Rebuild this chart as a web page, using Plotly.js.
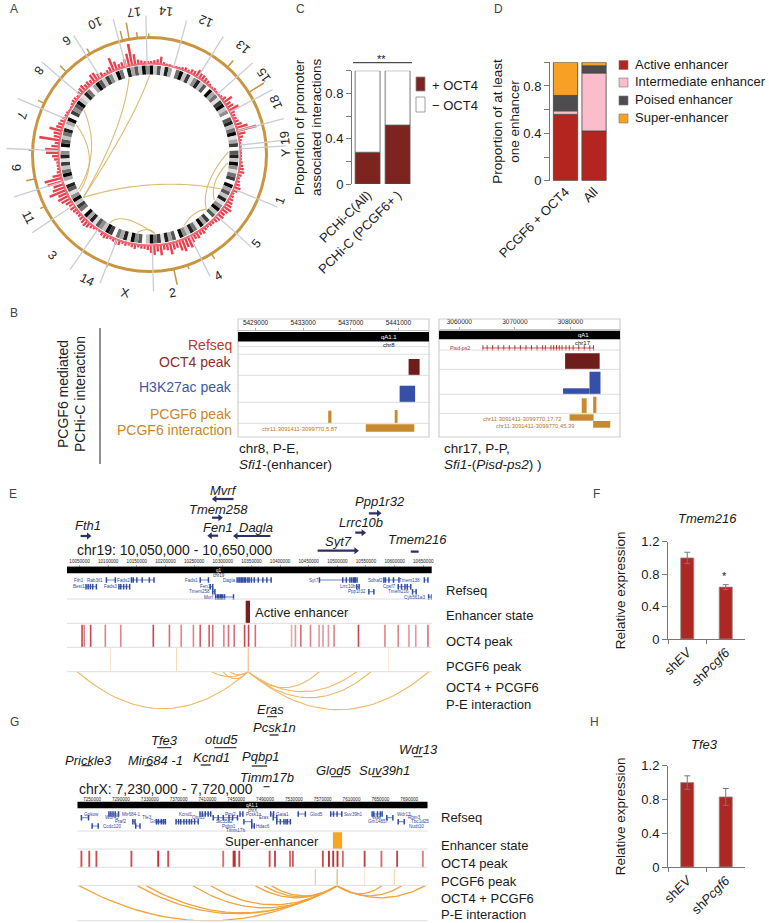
<!DOCTYPE html>
<html><head><meta charset="utf-8">
<script src="https://cdn.plot.ly/plotly-3.0.1.min.js"></script>
<style>html,body{margin:0;padding:0;background:#fff}</style></head>
<body><div id="plot" style="width:769px;height:923px"></div>
<script>
// ---------- Panel A data (angles clockwise from the top, radius in ring units)
const redHist=[3,4,5,8,3,2,2,1,2,2,3,4,3,5,5,8,6,6,5,4,3,2,3,2,2,3,5,10,6,7,11,5,4,4,5,7,12,20,8,5,3,2,2,2,2,2,2,3,4,5,6,4,3,4,5,7,5,3,4,5,6,7,9,7,6,7,6,5,4,4,3,4,6,5,7,6,8,12,10,13,11,7,8,12,7,6,11,7,10,8,5,4,4,3,5,4,3,4,3,5,6,4,3,4,5,4,2,2,3,4,6,7,6,5,4,4,5,6,5,7,10,12,10,18,13,11,16,18,9,4,3,3,3,5,7,13,14,8,5,21,7,8,13,7,6,5,4,3,3,2,2,3,4,4,3,5,6,7,5,6,5,9,9,6,5,3,4,6,14,9,5,6,8,13,22,11,5,4,3,3];
const bandShade=[9,2,6,1,8,3,0,5,9,2,7,1,4,8,2,6,0,9,3,5,1,7,9,2,4,0,6,8,2,5,9,1,3,7,0,6,8,2,9,4,1,5,7,0,9,3,6,2,8,1,4,9,2,6,0,7,3,9,1,5,8,2,4,9,0,6,3,8,1,7,5,9,2,0,6,4,9,1,8,3,5,0,7,9,2,4,6,1,8,3,9,0,5,7,2,9,4,1,6,8,0,3,9,5,2,7,1,8,4,0,9,6,2,5,8,1,3,9,0,7,4,6,9,2,1,8,5,0,3,9,6,2,7,4,1,9,5,0,8,3,6,2,9,4];
const goldSpikeTheta=[350,346.7,354,329.4,314.8,295.9,272,258,243.7,200.8,168,148,41.7,58,161,359.6];
const goldSpikeHeight=[16,9,5,5,8,6,3,8,4,3,15,5,8,17,3,3];
const spokeTheta=[345,358.5,15.5,32,48.4,62.2,75,84,86.4,112.3,132.3,153.6,178.3,201,214.6,236.3,252.6,272.4,293,310.7,327.5];
const spokeTip=[140,139,139,139,138,139,139,137,137,138,138,136,137,138,140,141,142,143,143,142,141];
const chromLabels=["10","17","14","12","13","15","18","19","Y","1","5","4","2","X","14","3","11","9","7","8","6"];
const chromLabelX=[95,134,166,206,243,264,276,285,286,280,256,218,172,125,87,52,28,16,22,39,67];
const chromLabelY=[23,12,11,21,47,75,102,138,153,201,244,276,293,293,280,255,217,167,115,70,40];
const chordFrom=[345,0,237,304,292,88,96,154,210,189];
const chordTo=[237,237,115.7,244,242,134,125,134,176.6,176];
const chordCtrlTheta=[315,334,174,273,267,120,114,142,206.6,181];
const chordCtrlR=[37,37,22,48,49,59,66,71,63,72];
// ---------- Panel C
const cCats=["PCHi-C(All)","PCHi-C (PCGF6+ )"];
const cPlus=[0.28,0.52], cMinus=[0.72,0.48];
// ---------- Panel D
const dCats=["PCGF6 + OCT4","All"];
const dActive=[0.56,0.42], dIntermediate=[0.03,0.49], dPoised=[0.13,0.06], dSuper=[0.28,0.03];
// ---------- Panels F, H
const fhCats=["sh<i>EV</i>","sh<i>Pcgf6</i>"];
const fVals=[1.0,0.64], fErr=[0.07,0.03];
const hVals=[1.0,0.83], hErr=[0.08,0.10];
// ---------- Panel B (genome coordinates)
const b1Oct4=[[5441855,5442781]], b1H3k=[[5441101,5442403]];
const b1Pcgf6=[[5435102,5435376],[5440689,5440929]], b1Inter=[[5438256,5442335]];
const b2Oct4=[[3079048,3085275]], b2H3kTall=[[3083444,3085422]], b2H3kLow=[[3078681,3083444]];
const b2Pcgf6=[[3082051,3082930],[3084102,3084688]];
const b2Inter1=[[3079853,3084176]], b2Inter2=[[3084102,3087180]];
const b2GeneExons=[3064249,3065000,3066000,3067000,3068000,3069000,3070000,3071000,3072000,3073000,3074000,3075000,3075500,3076500,3077000,3077500,3078000,3078500,3079200,3079800,3080500,3081500,3082500,3083500,3084176];
// ---------- Panel E (genome coordinates)
const eOct4=[10054375,10058125,10069375,10095000,10121875,10178750,10206875,10227500,10248750,10260625,10276250,10282500,10301875,10310000,10320000,10338125,10345000,10356875,10420000,10426875,10436250,10453125,10468125,10475000,10484375,10494375,10536875,10583125,10606250,10625000,10636875,10658125];
const eOct4Alpha=[.9,.6,.9,.6,.6,.9,.7,.6,.6,.8,.8,.7,.6,.7,.7,.9,.9,.7,.4,.5,.7,.6,.5,.5,.5,.6,.9,.6,.6,.5,.5,.7];
const ePcgf6=[10103750,10219375,10344375,10589375], ePcgf6Alpha=[.4,.5,1,.3];
const eEnhancer=[[10340000,10347500]];
const eHub=10344375;
const ePartner=[10046000,10280000,10312000,10300000,10468750,10534000,10559000,10660000];
const eDepth=[37,5,3,7,16,20,26,38];
const eRefStart=[10061250,10096875,10118750,10140625,10260625,10278125,10282500,10287500,10325000,10468750,10534000,10555000,10581250,10606250,10631250,10651875,10659375];
const eRefEnd=[10079375,10112500,10137500,10180000,10275000,10282500,10286250,10318750,10384375,10534375,10538000,10563750,10607500,10628125,10637500,10658125,10664375];
const eRefRow=[1,0,1,0,0,1,2,3,0,0,1,2,0,1,2,0,3];
const eExtraExon=[10328125,10330000,10332500,10335000,10337500,10340000,10343750,10346000,10350000,10355000,10362000,10370000,10377000,10509375,10515625,10521875,10525000,10528125,10530000,10531250,10290625,10293000,10295625,10298000,10300000,10303125,10143750,10150000,10159375,10171875,10065000,10069000,10073000,10122000,10127000,10132000,10584000,10590000,10598000,10612000,10618000,10622000];
const eExtraExonRow=[0,0,0,0,0,0,0,0,0,0,0,0,0,0,0,0,0,0,0,0,3,3,3,3,3,3,0,0,0,0,1,1,1,1,1,1,0,0,0,1,1,1];
const eRefNames=["Fth1","Rab3il1","Fads2","Fads1","Dagla","Syt7","Sdhaf2","Tmem138","Best1","Fads3","Fen1","Lrrc10b","Cpsf7","Tmem258","Ppp1r32","Tmem216","Mvrf","Cyb561a3"];
const eGeneStart=[10051875,10318750,10281250,10291875,10383125,10465625,10531250,10555000,10628125];
const eGeneEnd=[10065625,10286250,10295000,10278125,10323125,10532500,10545000,10571875,10641875];
// ---------- Panel G (genome coordinates)
const gOct4=[7235129,7246034,7255948,7304527,7341705,7355584,7431922,7446297,7448000,7454228,7496363,7503798,7524618,7528583,7570222,7578649,7584598,7590546,7597981,7628219,7651517,7673328,7709018];
const gOct4Alpha=[.85,.85,.85,.85,1,.85,.7,1,1,.9,.85,.9,.7,.8,.85,1,1,1,.7,.9,.7,.9,.6];
const gPcgf6=[7559813,7590050,7628219,7669362], gPcgf6Alpha=[.7,1,.3,.5];
const gEnhancer=[[7584100,7597000]];
const gHub=7590050;
const gPartner=[7232155,7312954,7325346,7389787,7414572,7476535,7488927,7498841,7652508,7679772,7711992];
const gDepth=[35,28,27,22,19,12,11,10,8,10,12];
const gRefStart=[7235129,7273298,7339226,7366490,7399701,7418042,7455220,7460673,7471578,7497850,7501321,7506277,7536023,7581128,7638629,7658953,7674815,7250000,7306510,7310475];
const gRefEnd=[7245043,7286682,7351619,7397223,7414572,7451750,7459185,7471578,7475048,7501816,7506277,7525114,7545937,7596494,7652508,7667379,7683242,7258427,7309484,7316424];
const gRefRow=[1,0,2,2,0,1,0,2,3,0,1,2,0,0,0,1,2,3,2,3];
const gExtraExon=[7369959,7373000,7377395,7381000,7384831,7388000,7392266,7511238,7516195,7519000,7521152,7425000,7432000,7440000,7445000,7276000,7279000,7282000,7342000,7346000,7349000,7403000,7407000,7411000,7585000,7590000,7641000,7646000,7650000];
const gExtraExonRow=[2,2,2,2,2,2,2,2,2,2,2,1,1,1,1,0,0,0,2,2,2,0,0,0,0,0,0,0,0];
const gRefNames=["Gpkow","Mir684-1","Kcnd1","Pim2","Pcsk1n","Gata1","Glod5","Suv39h1","Wdr13","Wdr45","Tfe3","Otud5","Eras","Was","Rbm3","Praf2","Gripap1","Slc35a2","Gm14857","Tbc1d25","Ccdc120","Pqbp1","Hdac6","Nudt10","Timm17b"];
const gGeneNames=["Eras","Pcsk1n","Tfe3","otud5","Prickle3","Mir684 -1","Kcnd1","Pqbp1","Wdr13","Glod5","Suv39h1","Timm17b"];
const gGeneStart=[7492893,7496363,7340217,7419529,7235129,7322868,7400693,7471578,7696130,7581624,7638629,7487936];
const gGeneEnd=[7506277,7508755,7360045,7450263,7248513,7334269,7414572,7492893,7708523,7596990,7651517,7496363];

// ---------- layout constants (page pixels)
const W=769,H=923, FONT='"Liberation Sans", Arial, sans-serif';
const domX=(a,b)=>[a/W,b/W], domY=(a,b)=>[1-b/H,1-a/H], posY=p=>1-p/H;
const RED='#b5251f',GOLD='#c98a2e',SEP='#dedede';
const traces=[], annotations=[], shapes=[];
const note=(text,x,y,o={})=>annotations.push(Object.assign({xref:'x9',yref:'y5',x,y,text,showarrow:false,xanchor:'center',yanchor:'middle',font:{family:FONT,size:13,color:'#1a1a1a'}},o));
const hline=(x0,x1,y,color=SEP,w=1)=>shapes.push({type:'line',xref:'x9',yref:'y5',x0,x1,y0:y,y1:y,line:{color,width:w},layer:'below'});
const rect=(x0,x1,y0,y1,fill,line,w=1)=>shapes.push({type:'rect',xref:'x9',yref:'y5',x0,x1,y0,y1,fillcolor:fill,line:{color:line||fill,width:line?w:0}});

// ---------- Panel A
const hist=(th,r,base,width,color)=>({type:'barpolar',theta:th,r,base,width,marker:{color,line:{width:0}},subplot:'polar'});
traces.push(hist([180],[3],[115.5],[360],'#c9953f'));
traces.push(hist(goldSpikeTheta,goldSpikeHeight,goldSpikeTheta.map(()=>118),goldSpikeTheta.map(()=>0.7),'#c9953f'));
traces.push(hist(redHist.map((v,i)=>(i+.5)*360/redHist.length),redHist,redHist.map(()=>90.5),redHist.map(()=>1.4),'#e9414f'));
traces.push(hist([180],[2],[90],[360],'#ee6a74'));
traces.push(hist(bandShade.map((v,i)=>(i+.5)*360/bandShade.length),bandShade.map(()=>9),bandShade.map(()=>80),bandShade.map(()=>360/bandShade.length),bandShade.map(v=>{const g=Math.round(250-v*27);return `rgb(${g},${g},${g})`})));
const spT=[],spR=[];spokeTheta.forEach((t,i)=>{spT.push(t,t,null);spR.push(91,spokeTip[i],null)});
traces.push({type:'scatterpolar',mode:'lines',theta:spT,r:spR,line:{color:'#c9cdd3',width:1.3},subplot:'polar'});
const cT=[],cR=[];const pol=(t,r)=>[r*Math.sin(t*Math.PI/180),r*Math.cos(t*Math.PI/180)];
chordFrom.forEach((a,i)=>{const p0=pol(a,79),p2=pol(chordTo[i],79),c=pol(chordCtrlTheta[i],chordCtrlR[i]);
  for(let k=0;k<=30;k++){const u=k/30,v=1-u,x=v*v*p0[0]+2*u*v*c[0]+u*u*p2[0],y=v*v*p0[1]+2*u*v*c[1]+u*u*p2[1];
    cT.push(Math.atan2(x,y)*180/Math.PI);cR.push(Math.hypot(x,y));}
  cT.push(null);cR.push(null);});
traces.push({type:'scatterpolar',mode:'lines',theta:cT,r:cR,line:{color:'#ddbb72',width:1.1},subplot:'polar'});
chromLabels.forEach((s,i)=>{const t=Math.atan2(chromLabelX[i]-149.5,-(chromLabelY[i]-154.5))*180/Math.PI;
  let rot=t+180;while(rot>180)rot-=360;note(s,chromLabelX[i],chromLabelY[i],{textangle:rot,font:{family:FONT,size:12.5,color:'#222'}});});

// ---------- Panel C
traces.push({type:'bar',xaxis:'x',yaxis:'y',x:cCats,y:cPlus,width:.83,marker:{color:'#7d2320',line:{color:'#555',width:.8}}});
traces.push({type:'bar',xaxis:'x',yaxis:'y',x:cCats,y:cMinus,base:cPlus,width:.83,marker:{color:'#fff',line:{color:'#555',width:.8}}});
shapes.push({type:'line',xref:'x9',yref:'y5',x0:353,x1:412,y0:62.7,y1:62.7,line:{color:'#222',width:1}});
note('**',381,58.5,{font:{family:FONT,size:11,color:'#222'}});
rect(416,425,77,91,'#7d2320','#888',.8);rect(416,425,97,112,'#fff','#888',.8);
note('+ OCT4',430,85,{xanchor:'left'});note('− OCT4',430,105.5,{xanchor:'left'});

// ---------- Panel D
const dStack=[dActive,dIntermediate,dPoised,dSuper],dCols=[RED,'#fbbccb','#4d4d4f','#f7a024'];
let dBase=[0,0];
dStack.forEach((v,k)=>{traces.push({type:'bar',xaxis:'x2',yaxis:'y2',x:dCats,y:v,base:dBase.slice(),width:.85,marker:{color:dCols[k],line:{color:'#444',width:.8}}});dBase=dBase.map((b,i)=>b+v[i]);});
['Active enhancer','Intermediate enhancer','Poised enhancer','Super-enhancer'].forEach((s,i)=>{
  const y=[65,82.5,100.5,118.5][i];rect(619,628,y-4.5,y+4.5,dCols[i],'#777',.6);note(s,632.5,y-1,{xanchor:'left'});});

// ---------- Panels F, H
const expr=(xa,ya,v,e)=>({type:'bar',xaxis:xa,yaxis:ya,x:fhCats,y:v,width:.34,marker:{color:'#ad2823',line:{color:'#9a8a88',width:.8}},error_y:{type:'data',array:e,visible:true,color:'#777',thickness:1,width:3}});
traces.push(expr('x3','y3',fVals,fErr));traces.push(expr('x4','y4',hVals,hErr));
note('<i>Tmem216</i>',707.5,518);note('<i>Tfe3</i>',704,744);
note('*',724.7,576,{font:{family:FONT,size:11,color:'#222'}});

// ---------- helpers for genome tracks
const mid=r=>(r[0]+r[1])/2;
function blocks(xa,list,top,bottom,color,alpha){traces.push({type:'bar',xaxis:xa,yaxis:'y5',x:list.map(mid),width:list.map(r=>r[1]-r[0]),base:list.map(()=>top),y:list.map(()=>bottom-top),marker:{color,opacity:alpha||1,line:{width:0}}});}
const peaks=(pos,w)=>pos.map(p=>[p-w/2,p+w/2]);
function arcs(xa,hub,partners,depths,top,color,w){const X=[],Y=[];partners.forEach((p,i)=>{for(let k=0;k<=36;k++){const u=k/36;X.push(p+(hub-p)*u);Y.push(top+4*depths[i]*u*(1-u));}X.push(null);Y.push(null);});
  traces.push({type:'scatter',mode:'lines',xaxis:xa,yaxis:'y5',x:X,y:Y,line:{color,width:w}});}
function refseq(xa,starts,ends,rows,extra,extraRows,rowY){const X=[],Y=[],mx=[],my=[];starts.forEach((s,i)=>{const y=rowY[rows[i]];X.push(s,ends[i],null);Y.push(y,y,null);mx.push(s,ends[i]);my.push(y,y);});
  extra.forEach((p,i)=>{mx.push(p);my.push(rowY[extraRows[i]]);});
  traces.push({type:'scatter',mode:'lines',xaxis:xa,yaxis:'y5',x:X,y:Y,line:{color:'#2f4aa5',width:.7}});
  traces.push({type:'scatter',mode:'markers',xaxis:xa,yaxis:'y5',x:mx,y:my,marker:{symbol:'line-ns-open',size:4,color:'#2f4aa5',line:{color:'#2f4aa5',width:1.5}}});}
const smallBlue=(s,x,y)=>note(s,x,y,{font:{family:FONT,size:4.6,color:'#2f4aa5'}});
function geneBars(xa,starts,ends,yy,color,w,arrow){const X=[],Y=[],mx=[],my=[],ms=[];starts.forEach((s,i)=>{X.push(s,ends[i],null);Y.push(yy[i],yy[i],null);
   if(arrow&&arrow[i]){mx.push(ends[i]);my.push(yy[i]);ms.push(ends[i]>s?'triangle-right':'triangle-left');}});
  traces.push({type:'scatter',mode:'lines',xaxis:xa,yaxis:'y5',x:X,y:Y,line:{color,width:w}});
  if(mx.length)traces.push({type:'scatter',mode:'markers',xaxis:xa,yaxis:'y5',x:mx,y:my,marker:{symbol:ms,size:6,color}});}

// ---------- Panel letters
note('A',14,9,{font:{family:FONT,size:12}});note('C',300,9,{font:{family:FONT,size:12}});note('D',498,9,{font:{family:FONT,size:12}});
note('B',14,313,{font:{family:FONT,size:12}});note('E',13,494,{font:{family:FONT,size:12}});note('G',14,722,{font:{family:FONT,size:12}});
note('F',596,494,{font:{family:FONT,size:12}});note('H',594,722,{font:{family:FONT,size:12}});

// ---------- Panel B
shapes.push({type:'line',xref:'x9',yref:'y5',x0:100,x1:100,y0:328,y1:464,line:{color:'#222',width:1}});
note('PCGF6 mediated',63,394,{textangle:-90,font:{family:FONT,size:14,color:'#222'}});
note('PCHi-C interaction',80,394,{textangle:-90,font:{family:FONT,size:14,color:'#222'}});
[['Refseq',345,'#c0392b'],['OCT4 peak',362,'#8f2c2a'],['H3K27ac peak',387,'#3a5aa8'],['PCGF6 peak',414,'#c8862a'],['PCGF6 interaction',430,'#c8862a']].forEach(a=>note(a[0],234,a[1],{xanchor:'right',font:{family:FONT,size:14,color:a[2]}}));
rect(238,429,319,437,'rgba(0,0,0,0)','#cfcfcf',1.2);rect(439,620,319,437,'rgba(0,0,0,0)','#cfcfcf',1.2);
rect(238,429,332,341.5,'#000');rect(439,620,330.7,339.3,'#000');
[346.7,354.3,375.3,402.3,423.3].forEach(y=>hline(238,429,y));[350,369.3,394.3,413.3].forEach(y=>hline(439,620,y));
note('qA1.1',389,336.7,{font:{family:FONT,size:6,color:'#fff'}});note('chr8',389,345,{font:{family:FONT,size:6,color:'#111'}});
note('qA1',583,335,{font:{family:FONT,size:6,color:'#fff'}});note('chr17',583,342.7,{font:{family:FONT,size:6,color:'#111'}});
blocks('x5',b1Oct4,359,375.3,'#6e1e1a');blocks('x5',b1H3k,385.7,402.3,'#3650a8');
blocks('x5',[b1Pcgf6[0]],410.7,423.3,GOLD);blocks('x5',[b1Pcgf6[1]],410,423.3,GOLD);blocks('x5',b1Inter,424.3,431.7,GOLD);
note('chr11:3091411-3099770,5.87',299,429,{font:{family:FONT,size:5.8,color:'#b5762a'}});
blocks('x6',b2Oct4,353.3,369.3,'#6e1e1a');blocks('x6',b2H3kTall,371.7,394.3,'#3650a8');blocks('x6',b2H3kLow,388.3,394.3,'#3650a8');
blocks('x6',[b2Pcgf6[0]],398.3,413.3,GOLD);blocks('x6',[b2Pcgf6[1]],396.7,413.3,GOLD);blocks('x6',b2Inter1,414.3,420.7,GOLD);blocks('x6',b2Inter2,421,427.7,GOLD);
traces.push({type:'scatter',mode:'lines+markers',xaxis:'x6',yaxis:'y5',x:b2GeneExons,y:b2GeneExons.map(()=>348),line:{color:'#b5302c',width:.8},marker:{symbol:'line-ns-open',size:4,color:'#b5302c',line:{color:'#b5302c',width:1}}});
note('Pisd-ps2',460,348,{font:{family:FONT,size:5.2,color:'#b5302c'}});
note('chr11:3091411-3099770,17.72',522,418.7,{font:{family:FONT,size:5.8,color:'#b5762a'}});
note('chr11:3091411-3099770,45.39',535,425.5,{font:{family:FONT,size:5.8,color:'#b5762a'}});
note('chr8, P-E,',237,448,{xanchor:'left',font:{family:FONT,size:13.5,color:'#1a1a1a'}});
note('<i>Sfi1</i>-(enhancer)',237,464,{xanchor:'left',font:{family:FONT,size:13.5,color:'#1a1a1a'}});
note('chr17, P-P,',442,448,{xanchor:'left',font:{family:FONT,size:13.5,color:'#1a1a1a'}});
note('<i>Sfi1</i>-(<i>Pisd-ps2</i>) )',442,464,{xanchor:'left',font:{family:FONT,size:13.5,color:'#1a1a1a'}});

// ---------- Panel E
rect(67,431.7,566.7,573.3,'#000');
[599,623.3,647.3,671.7].forEach(y=>hline(67,431.7,y));
note('q1',218.6,570,{font:{family:FONT,size:4.5,color:'#fff'}});note('chr19',218.6,575.5,{font:{family:FONT,size:4.5,color:'#333'}});
const eRows=[580,586.7,591.7,597];
refseq('x7',eRefStart,eRefEnd,eRefRow,eExtraExon,eExtraExonRow,eRows);
[[220,0],[265,0],[345,0],[537,0],[640,0],[878,0],[1050,0],[1147,0],[220,1],[310,1],[575,1],[975,1],[1090,1],[558,2],[1000,2],[1115,2],[585,3],[1160,3]].forEach((p,i)=>smallBlue(eRefNames[i],p[0]/2.8,eRows[p[1]]));
blocks('x7',eEnhancer,600.7,623.3,'#7a1f1f');
note('Active enhancer',253,612.5,{xanchor:'left'});
blocks('x7',peaks(eOct4,2800),624.7,647.3,'#c8303a',eOct4Alpha);
blocks('x7',peaks(ePcgf6,1500),648.3,671.7,'#f0a858',ePcgf6Alpha);
arcs('x7',eHub,ePartner,eDepth,671.7,'#f1b765',1.1);
geneBars('x7',eGeneStart,eGeneEnd,[536,499,517.7,535.7,536,550.7,532.7,513.3,551.7],'#2e2f63',2.2,[1,1,1,1,1,1,1,1,0]);
[[223,490.7],[218,509.3],[87.5,525.7],[218,527.3],[256.4,527.3],[338,541],[360.7,522.7],[380,501.7],[417,539.3]].forEach((p,i)=>{
  const order=["Mvrf","Tmem258","Fth1","Fen1","Dagla","Syt7","Lrrc10b","Ppp1r32","Tmem216"];note('<i>'+order[i]+'</i>',p[0],p[1],{font:{family:FONT,size:13,color:'#1a1a1a'}});});
note('chr19: 10,050,000 - 10,650,000',74.7,550,{xanchor:'left',font:{family:FONT,size:14,color:'#1a1a1a'}});
[['Refseq',590],['Enhancer state',615.5],['OCT4 peak',641],['PCGF6 peak',666],['OCT4 + PCGF6',687],['P-E interaction',704]].forEach(a=>note(a[0],444,a[1],{xanchor:'left'}));

// ---------- Panel G
rect(77.5,427.5,801.7,808.3,'#000');
[831,849,867.3,885.3].forEach(y=>hline(77.5,427.5,y));hline(77.5,427.5,920.7);
note('qA1.1',252,805,{font:{family:FONT,size:4.5,color:'#fff'}});note('chrX',252,810.5,{font:{family:FONT,size:4.5,color:'#333'}});
const gRows=[814,817.7,821.7,826,830];
refseq('x8',gRefStart,gRefEnd,gRefRow,gExtraExon,gExtraExonRow,gRows);
[[255,0],[368,0],[520,0],[645,0],[712,0],[790,0],[885,0],[990,0],[1130,0],[313,1],[412,1],[557,1],[740,1],[1055,1],[1160,1],[338,2],[445,2],[628,2],[1060,2],[1175,2],[315,3],[640,3],[735,3],[1165,3],[660,4]].forEach((p,i)=>smallBlue(gRefNames[i],p[0]/2.8,gRows[p[1]]));
blocks('x8',gEnhancer,832.3,849,'#f5a623');
note('Super-enhancer',223,841,{xanchor:'left'});
blocks('x8',peaks(gOct4,2600),850.7,867.3,'#c22f33',gOct4Alpha);
blocks('x8',peaks(gPcgf6,1500),869,885.3,'#eea552',gPcgf6Alpha);
arcs('x8',gHub,gPartner,gDepth,885.8,'#f2a33a',1.3);
geneBars('x8',gGeneStart,gGeneEnd,[716.7,735,747.7,747.7,765.7,765.7,765,766,756.7,776.7,776.7,786.7],'#444',1.3);
[[270,709],[274,727.7],[164,740],[221,739],[88.6,760],[155,760],[211,757],[261,756.7],[418,749],[333,770],[384,770],[267,777]].forEach((p,i)=>note('<i>'+gGeneNames[i]+'</i>',p[0],p[1],{font:{family:FONT,size:13,color:'#1a1a1a'}}));
note('chrX: 7,230,000 - 7,720,000',77,789.3,{xanchor:'left',font:{family:FONT,size:14,color:'#1a1a1a'}});
[['Refseq',817],['Enhancer state',845.7],['OCT4 peak',863],['PCGF6 peak',881.7],['OCT4 + PCGF6',898],['P-E interaction',914]].forEach(a=>note(a[0],439,a[1],{xanchor:'left'}));

// ---------- axes
const axFont={family:FONT,size:13,color:'#1a1a1a'};
const valAxis=(dom,anchor,range,tv,tt,title,standoff)=>({domain:dom,anchor,range,tickmode:'array',tickvals:tv,ticktext:tt,ticks:'outside',ticklen:5,tickcolor:'#777',showline:true,linecolor:'#777',linewidth:1,showgrid:false,zeroline:false,tickfont:axFont,title:{text:title,font:{family:FONT,size:13.5,color:'#1a1a1a'},standoff}});
const catAxis=(dom,anchor,range)=>({domain:dom,anchor,type:'category',range,tickangle:-45,ticks:'',showline:false,showgrid:false,zeroline:false,tickfont:axFont});
const ruler=(dom,range,y,dtick,tick0,size)=>({domain:dom,range,anchor:'free',position:posY(y),side:'top',dtick,tick0,tickformat:'d',ticks:'outside',ticklen:2,tickcolor:'#777',tickwidth:.6,showline:true,linecolor:'#999',linewidth:.6,showgrid:false,zeroline:false,tickfont:{family:FONT,size,color:'#222'}});
const tick6=[0,.2,.4,.6,.8,1],lab6=['0','','0.4','','0.8',''];
const exprAxis=(dom,anchor)=>Object.assign(catAxis(dom,anchor,[-.5,1.5]),{tickson:'boundaries',ticks:'outside',ticklen:4,tickcolor:'#777',showline:true,linecolor:'#777'});
const layout={width:W,height:H,margin:{l:0,r:0,t:0,b:0,pad:0},autosize:false,showlegend:false,hovermode:false,barmode:'overlay',paper_bgcolor:'#fff',plot_bgcolor:'rgba(0,0,0,0)',font:{family:FONT},
  polar:{domain:{x:domX(4.5,294.5),y:domY(9.5,299.5)},bgcolor:'rgba(0,0,0,0)',hole:0,
    radialaxis:{range:[0,145],visible:false},angularaxis:{visible:false,direction:'clockwise',rotation:90,thetaunit:'degrees'}},
  xaxis:catAxis(domX(352,412),'y',[-.52,1.48]),
  yaxis:valAxis(domY(70.7,184),'x',[0,1],tick6,lab6,'Proportion of promoter<br>associated interactions',0),
  xaxis2:catAxis(domX(550,610),'y2',[-.544,1.56]),
  yaxis2:valAxis(domY(62.3,180.7),'x2',[0,1],tick6,lab6,'Proportion of at least<br>one enhancer',0),
  xaxis3:exprAxis(domX(668,745),'y3'),
  yaxis3:valAxis(domY(541.7,639),'x3',[0,1.2],[0,.4,.8,1.2],['0','0.4','0.8','1.2'],'Relative expression',12),
  xaxis4:exprAxis(domX(668,745),'y4'),
  yaxis4:valAxis(domY(765.7,867),'x4',[0,1.2],[0,.4,.8,1.2],['0','0.4','0.8','1.2'],'Relative expression',12),
  xaxis5:ruler(domX(238,429),[5427526,5443569],330,4000,5429000,6.5),
  xaxis6:ruler(domX(439,620),[3056337,3088938],329,10000,3060000,6.5),
  xaxis7:ruler(domX(67,431.7),[10028100,10664700],566.5,50000,10050000,4.6),
  xaxis8:ruler(domX(77.5,427.5),[7229700,7715460],805,40000,7250000,4.6),
  xaxis9:{domain:[0,1],range:[0,W],anchor:'y5',visible:false,fixedrange:true},
  yaxis5:{domain:[0,1],range:[H,0],anchor:'x9',visible:false,fixedrange:true},
  annotations,shapes};
Plotly.newPlot('plot',traces,layout,{staticPlot:true,displayModeBar:false});
</script></body></html>
